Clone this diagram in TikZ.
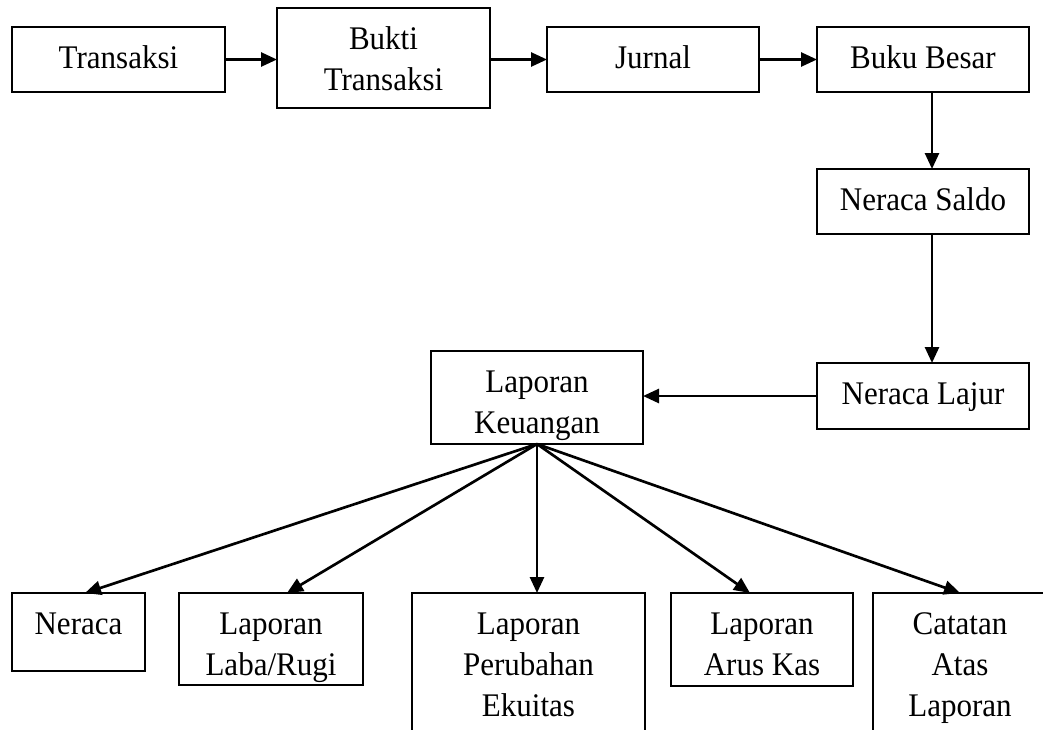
\documentclass[tikz,border=0pt]{standalone}
\usepackage{fontspec}
\setmainfont{Liberation Serif}[FakeStretch=0.94]
\usetikzlibrary{arrows.meta}
\tikzset{
  flow/.style={draw, line width=1.9pt, inner sep=0pt, outer sep=0pt},
  txt/.style={anchor=north, inner sep=0pt, minimum width=0pt, minimum height=0pt, align=center, font=\fontsize{24.75pt}{31pt}\selectfont},
  arr/.style={line width=2pt, -{Triangle[length=12pt,width=10.5pt]}},
}
\newcommand\flowbox[6]{%
  \node[flow, minimum width={(#4-#2)*0.75pt}, minimum height={(#5-#3)*0.75pt},
    path picture={\node[txt] at (path picture bounding box.north) {\rule{0pt}{30.75pt}#6};}]
    (#1) at ({(#2+#4)/2},{(#3+#5)/2}) {};}
\begin{document}
\begin{tikzpicture}[x=0.75pt,y=-0.75pt]
\path[use as bounding box] (0,0) rectangle (1043,729);
\clip (0,0) rectangle (1043,729);
\flowbox{tr}{12}{27}{225}{92}{Transaksi}
\flowbox{bt}{277}{8}{490}{108}{Bukti\\Transaksi}
\flowbox{jr}{547}{27}{759}{92}{Jurnal}
\flowbox{bb}{817}{27}{1029}{92}{Buku Besar}
\flowbox{ns}{817}{169}{1029}{234}{Neraca Saldo}
\flowbox{nl}{817}{363}{1029}{429}{Neraca Lajur}
\flowbox{lk}{431}{351}{643}{444}{Laporan\\Keuangan}
\flowbox{ne}{12}{593}{145}{671}{Neraca}
\flowbox{lr}{179}{593}{363}{685}{Laporan\\Laba/Rugi}
\flowbox{pe}{412}{593}{645}{770}{Laporan\\Perubahan\\Ekuitas}
\flowbox{ak}{671}{593}{853}{686}{Laporan\\Arus Kas}
\flowbox{ca}{873}{593}{1047}{770}{Catatan\\Atas\\Laporan}
\draw[arr] (tr.east) -- (tr.east -| bt.west);
\draw[arr] (jr.west -| bt.east) -- (jr.west);
\draw[arr] (jr.east) -- (bb.west);
\draw[arr] ([xshift=6.75pt]bb.south) -- ([xshift=6.75pt]ns.north);
\draw[arr] ([xshift=6.75pt]ns.south) -- ([xshift=6.75pt]nl.north);
\draw[arr] (nl.west) -- (nl.west -| lk.east);
\draw[arr] (lk.south) -- ([xshift=4.9pt]ne.north);
\draw[arr] (lk.south) -- ([xshift=12pt]lr.north);
\draw[arr] (lk.south) -- (lk.south |- pe.north);
\draw[arr] (lk.south) -- ([xshift=-9pt]ak.north);
\draw[arr] (lk.south) -- (ca.north);
\end{tikzpicture}
\end{document}
